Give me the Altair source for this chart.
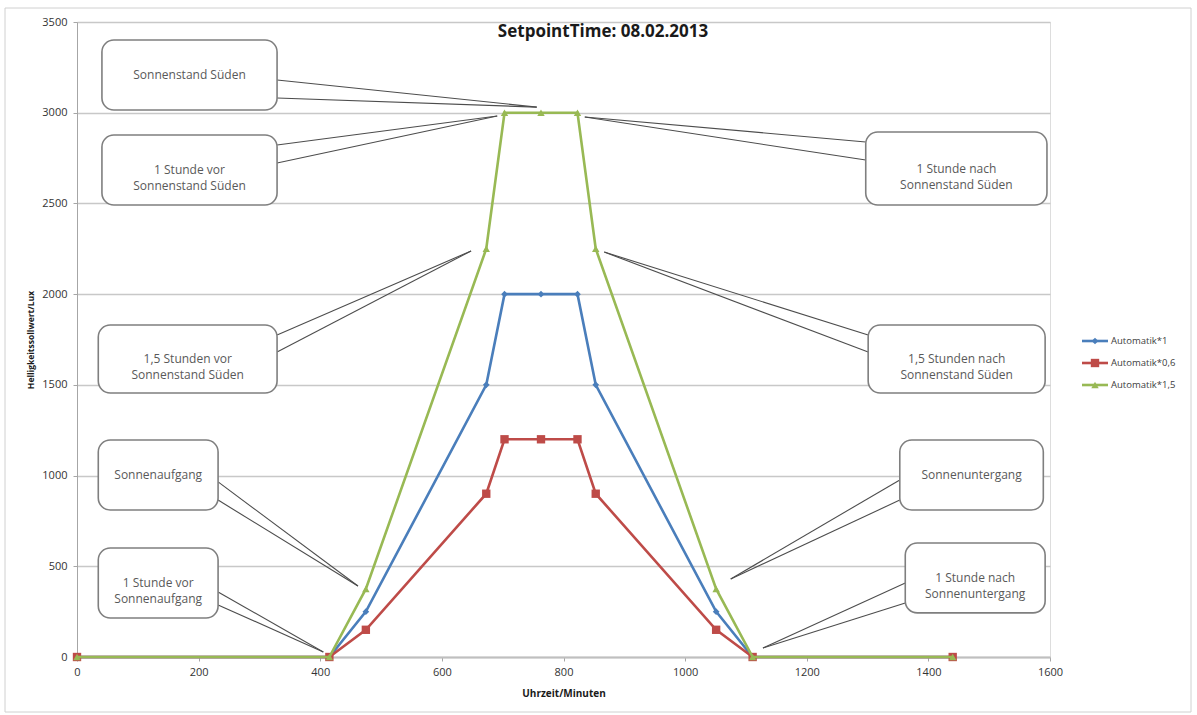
import altair as alt
import pandas as pd

# Time of day in minutes and the brightness setpoints (lux) for each factor
minutes = [0, 415, 475, 673, 703, 763, 823, 853, 1051, 1111, 1440]
auto_1 = [0, 0, 250, 1500, 2000, 2000, 2000, 1500, 250, 0, 0]
auto_06 = [0, 0, 150, 900, 1200, 1200, 1200, 900, 150, 0, 0]
auto_15 = [0, 0, 375, 2250, 3000, 3000, 3000, 2250, 375, 0, 0]

series_names = ["Automatik*1", "Automatik*0,6", "Automatik*1,5"]
series_values = [auto_1, auto_06, auto_15]
series_colors = ["#4A7EBB", "#BE4B48", "#98B954"]
series_shapes = ["diamond", "square", "triangle-up"]
series_sizes = [45, 70, 55]

x_ticks = [0, 200, 400, 600, 800, 1000, 1200, 1400, 1600]
y_ticks = [0, 500, 1000, 1500, 2000, 2500, 3000, 3500]

# Callout texts
callout_texts = [
    "Sonnenstand Süden",
    "1 Stunde vor\nSonnenstand Süden",
    "1,5 Stunden vor\nSonnenstand Süden",
    "Sonnenaufgang",
    "1 Stunde vor\nSonnenaufgang",
    "1 Stunde nach\nSonnenstand Süden",
    "1,5 Stunden nach\nSonnenstand Süden",
    "Sonnenuntergang",
    "1 Stunde nach\nSonnenuntergang",
]
# Callout layout in axis units: box extent, pointer base (x, two y's) and tip
box_x1 = [41, 41, 35, 35, 35, 1297, 1301, 1353, 1362]
box_x2 = [329, 329, 329, 232, 232, 1595, 1592, 1589, 1592]
box_y1 = [3015, 2491, 1455, 810, 215, 2491, 1455, 810, 243]
box_y2 = [3401, 2877, 1830, 1196, 601, 2894, 1830, 1196, 628]
base_x = [329, 329, 329, 232, 232, 1297, 1301, 1353, 1362]
base_ya = [3180, 2822, 1775, 965, 358, 2839, 1775, 976, 408]
base_yb = [3081, 2723, 1681, 865, 287, 2739, 1681, 865, 298]
tip_x = [756, 691, 648, 462, 405, 835, 867, 1075, 1128]
tip_y = [3031, 2982, 2238, 391, 28, 2976, 2232, 430, 50]

W, H = 973, 635
FONT = "Open Sans"

xs = alt.Scale(domain=[0, 1600], nice=False, zero=False)
ys = alt.Scale(domain=[0, 3500], nice=False)

x_axis = alt.Axis(
    values=x_ticks, format="d", grid=False, title="Uhrzeit/Minuten",
    titleFont=FONT, titleFontSize=10, titleFontWeight="bold",
    titleColor="#1a1a1a", titleY=36, titleBaseline="middle",
    labelFont=FONT, labelFontSize=11, labelColor="#333333", labelPadding=5,
    labelFlush=False, labelOverlap=False, tickSize=4, tickColor="#A6A6A6",
    domainColor="#BFBFBF", domainWidth=2,
)
y_axis = alt.Axis(
    values=y_ticks, format="d", grid=True, gridColor="#C8C8C8", gridWidth=1.3,
    title="Helligkeitssollwert/Lux", titleFont=FONT, titleFontSize=8.5,
    titleFontWeight="bold", titleColor="#1a1a1a", titleX=-47, titleY=H / 2,
    titleAngle=270, titleBaseline="middle", titleAlign="center",
    labelFont=FONT, labelFontSize=11, labelColor="#333333", labelPadding=6,
    labelFlush=False, labelOverlap=False, tickSize=4, tickColor="#A6A6A6",
    domainColor="#A6A6A6",
)

# Thin frame around the whole chart (no fill so the axes stay visible)
frame = alt.Chart(pd.DataFrame({"k": [0]})).mark_rect(
    fillOpacity=0, stroke="#D0D0D0", strokeWidth=1
).encode(x=alt.value(-72), x2=alt.value(1114), y=alt.value(-14), y2=alt.value(690))

# Axes carrier with gridlines
axes = alt.Chart(pd.DataFrame({"x": [0, 1600], "y": [0, 3500]})).mark_point(
    opacity=0
).encode(
    x=alt.X("x:Q", scale=xs, axis=x_axis),
    y=alt.Y("y:Q", scale=ys, axis=y_axis),
)

# Callouts
cdf = pd.DataFrame({
    "text": callout_texts, "bx1": box_x1, "bx2": box_x2, "by1": box_y1,
    "by2": box_y2, "basex": base_x, "bya": base_ya, "byb": base_yb,
    "tx": tip_x, "ty": tip_y,
})
cdf["cx"] = (cdf["bx1"] + cdf["bx2"]) / 2
cdf["cy"] = (cdf["by1"] + cdf["by2"]) / 2
cdf["lines"] = cdf["text"].str.split("\n")

ptr_a = alt.Chart(cdf).mark_rule(color="#4D4D4D", strokeWidth=1.1).encode(
    x=alt.X("basex:Q", scale=xs), y=alt.Y("bya:Q", scale=ys),
    x2="tx:Q", y2="ty:Q",
)
ptr_b = alt.Chart(cdf).mark_rule(color="#4D4D4D", strokeWidth=1.1).encode(
    x=alt.X("basex:Q", scale=xs), y=alt.Y("byb:Q", scale=ys),
    x2="tx:Q", y2="ty:Q",
)
boxes = alt.Chart(cdf).mark_rect(
    fill="white", stroke="#7F7F7F", strokeWidth=1.6, cornerRadius=12
).encode(
    x=alt.X("bx1:Q", scale=xs), x2="bx2:Q",
    y=alt.Y("by1:Q", scale=ys), y2="by2:Q",
)
box_text = alt.Chart(cdf).mark_text(
    font=FONT, fontSize=12, color="#595959", lineHeight=16, baseline="middle",
    align="center",
).encode(
    x=alt.X("cx:Q", scale=xs), y=alt.Y("cy:Q", scale=ys), text="lines",
)

# Data series, drawn in order so the last lies on top
series_layers = []
for name, vals, col, shp, sz in zip(series_names, series_values, series_colors,
                                    series_shapes, series_sizes):
    df = pd.DataFrame({"minute": minutes, "lux": vals, "series": name})
    base = alt.Chart(df).encode(
        x=alt.X("minute:Q", scale=xs), y=alt.Y("lux:Q", scale=ys)
    )
    series_layers.append(base.mark_line(color=col, strokeWidth=2.6))
    series_layers.append(
        base.mark_point(shape=shp, filled=True, color=col, size=sz, opacity=1)
    )

# Legend, placed to the right of the plot area
legend_layers = []
for i, (name, col, shp, sz) in enumerate(zip(series_names, series_colors,
                                             series_shapes, series_sizes)):
    py = 319 + i * 22
    d = pd.DataFrame({"name": [name]})
    legend_layers.append(alt.Chart(d).mark_rule(color=col, strokeWidth=2.6).encode(
        x=alt.value(1005), x2=alt.value(1031), y=alt.value(py)))
    legend_layers.append(alt.Chart(d).mark_point(
        shape=shp, filled=True, color=col, size=sz, opacity=1).encode(
        x=alt.value(1018), y=alt.value(py)))
    legend_layers.append(alt.Chart(d).mark_text(
        font=FONT, fontSize=9.5, color="#404040", align="left", baseline="middle"
    ).encode(x=alt.value(1034), y=alt.value(py), text="name:N"))

title = alt.Chart(pd.DataFrame({"t": ["SetpointTime: 08.02.2013"]})).mark_text(
    font=FONT, fontSize=17, fontWeight="bold", color="#1a1a1a",
    align="center", baseline="middle",
).encode(x=alt.value(526), y=alt.value(10), text="t:N")

chart = alt.layer(
    frame, axes, ptr_a, ptr_b, boxes, box_text, *series_layers,
    *legend_layers, title,
).properties(
    width=W, height=H,
    padding={"left": 77, "top": 22, "right": 147, "bottom": 58},
    autosize=alt.AutoSizeParams(type="none"),
).configure_view(stroke=None).configure(background="white")

chart.save("out.html", embed_options={"renderer": "svg", "actions": False})
